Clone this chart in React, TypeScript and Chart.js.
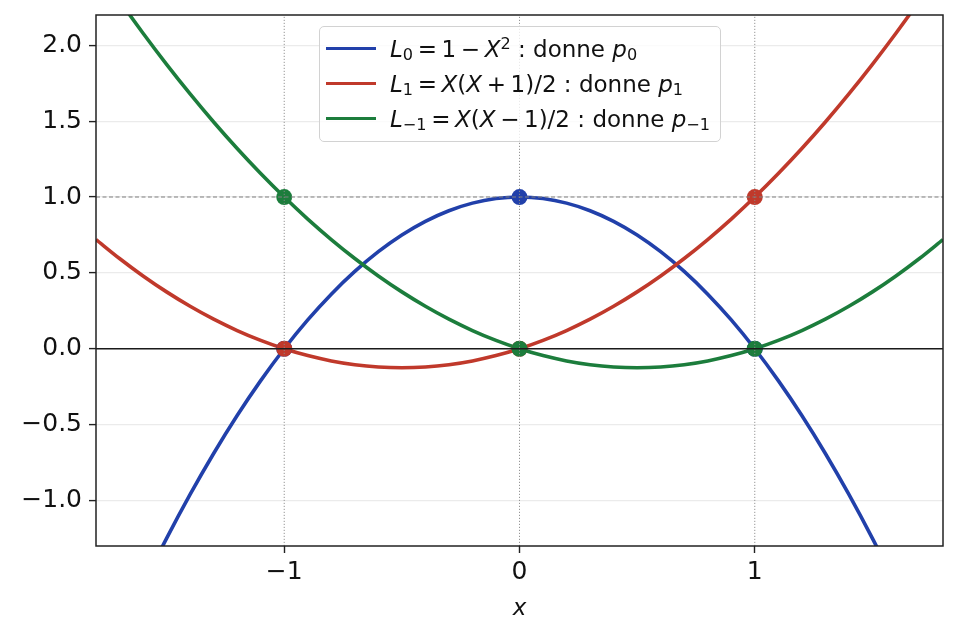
import { useEffect, useRef } from "react";
import { Chart, registerables } from "chart.js";

Chart.register(...registerables);

// ─── Data ─────────────────────────────────────────────────────────────────────
const xs = [
  -1.8, -1.7, -1.6, -1.5, -1.4, -1.3, -1.2, -1.1, -1.0, -0.9, -0.8, -0.7, -0.6,
  -0.5, -0.4, -0.3, -0.2, -0.1, 0, 0.1, 0.2, 0.3, 0.4, 0.5, 0.6, 0.7, 0.8, 0.9,
  1.0, 1.1, 1.2, 1.3, 1.4, 1.5, 1.6, 1.7, 1.8,
];
// L0 = 1 - X^2
const l0 = [
  -2.24, -1.89, -1.56, -1.25, -0.96, -0.69, -0.44, -0.21, 0, 0.19, 0.36, 0.51, 0.64,
  0.75, 0.84, 0.91, 0.96, 0.99, 1, 0.99, 0.96, 0.91, 0.84, 0.75, 0.64, 0.51, 0.36, 0.19,
  0, -0.21, -0.44, -0.69, -0.96, -1.25, -1.56, -1.89, -2.24,
];
// L1 = X(X+1)/2
const l1 = [
  0.72, 0.595, 0.48, 0.375, 0.28, 0.195, 0.12, 0.055, 0, -0.045, -0.08, -0.105, -0.12,
  -0.125, -0.12, -0.105, -0.08, -0.045, 0, 0.055, 0.12, 0.195, 0.28, 0.375, 0.48, 0.595,
  0.72, 0.855, 1, 1.155, 1.32, 1.495, 1.68, 1.875, 2.08, 2.295, 2.52,
];
// L-1 = X(X-1)/2
const lm1 = [
  2.52, 2.295, 2.08, 1.875, 1.68, 1.495, 1.32, 1.155, 1, 0.855, 0.72, 0.595, 0.48,
  0.375, 0.28, 0.195, 0.12, 0.055, 0, -0.045, -0.08, -0.105, -0.12, -0.125, -0.12,
  -0.105, -0.08, -0.045, 0, 0.055, 0.12, 0.195, 0.28, 0.375, 0.48, 0.595, 0.72,
];

// interpolation nodes and the values each polynomial takes there
const nodes = [-1, 0, 1];
const l0Nodes = [0, 1, 0];
const l1Nodes = [0, 0, 1];
const lm1Nodes = [1, 0, 0];

const xTicks = [-1, 0, 1];
const yTicks = [-1, -0.5, 0, 0.5, 1, 1.5, 2];
const vLines = [-1, 0, 1];

const BLUE = "#2140aa";
const RED = "#c0392b";
const GREEN = "#1c7d3c";
const FONT = "'DejaVu Sans', sans-serif";

type Seg = [string, string];
const legendRows: { color: string; parts: Seg[] }[] = [
  {
    color: BLUE,
    parts: [["L", "i"], ["0", "sub"], ["=", "op"], ["1", ""], ["−", "op"], ["X", "i"], ["2", "sup"], [" : donne ", ""], ["p", "i"], ["0", "sub"]],
  },
  {
    color: RED,
    parts: [["L", "i"], ["1", "sub"], ["=", "op"], ["X", "i"], ["(", ""], ["X", "i"], ["+", "op"], ["1)/2", ""], [" : donne ", ""], ["p", "i"], ["1", "sub"]],
  },
  {
    color: GREEN,
    parts: [["L", "i"], ["−1", "sub"], ["=", "op"], ["X", "i"], ["(", ""], ["X", "i"], ["−", "op"], ["1)/2", ""], [" : donne ", ""], ["p", "i"], ["−1", "sub"]],
  },
];

const pts = (x: number[], y: number[]) => x.map((v, i) => ({ x: v, y: y[i] }));
const minus = (s: string) => s.replace("-", "−");

// frame around the plotting area (all four spines)
const framePlugin = {
  id: "frame",
  afterDatasetsDraw(chart: any) {
    const { ctx, chartArea: a } = chart;
    ctx.save();
    ctx.strokeStyle = "#222";
    ctx.lineWidth = 1.5;
    ctx.strokeRect(a.left, a.top, a.right - a.left, a.bottom - a.top);
    ctx.restore();
  },
};

// ─── Component ────────────────────────────────────────────────────────────────
export default function App() {
  const canvasRef = useRef<HTMLCanvasElement | null>(null);
  const chartRef = useRef<any>(null);

  useEffect(() => {
    if (!canvasRef.current) return;
    if (chartRef.current) chartRef.current.destroy();

    const curve = (data: number[], color: string, order: number) => ({
      data: pts(xs, data),
      showLine: true,
      borderColor: color,
      borderWidth: 3.6,
      pointRadius: 0,
      tension: 0.3,
      clip: 0,
      order,
    });
    const markers = (data: number[], color: string, order: number) => ({
      data: pts(nodes, data),
      showLine: false,
      pointRadius: 8,
      pointBorderWidth: 0,
      backgroundColor: color,
      pointBackgroundColor: color,
      order,
    });
    const ref = (data: { x: number; y: number }[], color: string, width: number, dash: number[]) => ({
      data,
      showLine: true,
      borderColor: color,
      borderWidth: width,
      borderDash: dash,
      pointRadius: 0,
      tension: 0,
      clip: 0,
      order: 0,
    });

    chartRef.current = new Chart(canvasRef.current, {
      type: "scatter",
      data: {
        datasets: [
          ref([{ x: -1.8, y: 0 }, { x: 1.8, y: 0 }], "#1a1a1a", 1.7, []),
          ref([{ x: -1.8, y: 1 }, { x: 1.8, y: 1 }], "#808080", 1.1, [4, 2.5]),
          ...vLines.map((v) => ref([{ x: v, y: -1.3 }, { x: v, y: 2.2 }], "#8a8a8a", 0.9, [1.2, 1.8])),
          markers(lm1Nodes, GREEN, 1),
          markers(l1Nodes, RED, 2),
          markers(l0Nodes, BLUE, 3),
          curve(lm1, GREEN, 4),
          curve(l1, RED, 5),
          curve(l0, BLUE, 6),
        ] as any,
      },
      options: {
        animation: false,
        responsive: true,
        maintainAspectRatio: false,
        events: [],
        layout: { padding: { top: 15, right: 16, left: 0, bottom: 0 } },
        elements: { line: { capBezierPoints: false } },
        plugins: {
          legend: { display: false },
          tooltip: { enabled: false },
        },
        scales: {
          x: {
            type: "linear",
            min: -1.8,
            max: 1.8,
            afterBuildTicks: (s: any) => { s.ticks = xTicks.map((v) => ({ value: v })); },
            afterFit: (s: any) => { s.height = 92; s.paddingLeft = 0; s.paddingRight = 0; },
            grid: { drawOnChartArea: false, tickColor: "#222", tickWidth: 1.4, tickLength: 7 },
            border: { display: false },
            ticks: {
              color: "#111",
              font: { family: FONT, size: 25 },
              padding: 4,
              maxRotation: 0,
              autoSkip: false,
              callback: (v: any) => minus(String(v)),
            },
            title: {
              display: true,
              text: "x",
              color: "#111",
              font: { family: FONT, size: 23, style: "italic" },
              padding: { top: 0, bottom: 15 },
            },
          },
          y: {
            type: "linear",
            min: -1.3,
            max: 2.2,
            afterBuildTicks: (s: any) => { s.ticks = yTicks.map((v) => ({ value: v })); },
            afterFit: (s: any) => { s.width = 96; s.paddingTop = 0; s.paddingBottom = 0; },
            grid: { color: "#ebebeb", lineWidth: 1.2, tickColor: "#222", tickWidth: 1.4, tickLength: 7 },
            border: { display: false },
            ticks: {
              color: "#111",
              font: { family: FONT, size: 25 },
              padding: 7,
              autoSkip: false,
              callback: (v: any) => minus(Number(v).toFixed(1)),
            },
          },
        },
      },
      plugins: [framePlugin],
    } as any);

    return () => { if (chartRef.current) chartRef.current.destroy(); };
  }, []);

  const fs = 23;
  const rowBase = [57.7, 92.7, 127.7];
  const rowMid = [48.3, 83.3, 118.3];

  const renderSeg = ([t, k]: Seg, i: number) => {
    if (k === "i") return <span key={i} style={{ fontStyle: "italic" }}>{t}</span>;
    if (k === "sub") return <span key={i} style={{ fontSize: "0.7em", position: "relative", top: "0.2em" }}>{t}</span>;
    if (k === "sup") return <span key={i} style={{ fontSize: "0.7em", position: "relative", top: "-0.5em" }}>{t}</span>;
    if (k === "op") return <span key={i} style={{ margin: "0 0.2em" }}>{t}</span>;
    return <span key={i} style={{ whiteSpace: "pre" }}>{t}</span>;
  };

  return (
    <>
      <style>{`
        * { box-sizing: border-box; }
        body { margin: 0; background: #ffffff; font-family: ${FONT}; }
      `}</style>

      <div style={{ position: "relative", width: 959, height: 638, background: "#fff" }}>
        <canvas ref={canvasRef} />

        {/* Legend */}
        <div
          style={{
            position: "absolute", left: 319, top: 26, width: 402, height: 116,
            border: "1.3px solid #d2d2d2", borderRadius: 5, background: "rgba(255,255,255,0.8)",
          }}
        />
        {legendRows.map((r, i) => (
          <div key={i}>
            <div style={{ position: "absolute", left: 326, top: rowMid[i] - 1.7, width: 50, height: 3.4, background: r.color }} />
            <div
              style={{
                position: "absolute", left: 390, top: rowBase[i] - 0.846 * fs,
                fontFamily: FONT, fontSize: fs, lineHeight: `${fs}px`, color: "#111", whiteSpace: "nowrap",
              }}
            >
              {r.parts.map(renderSeg)}
            </div>
          </div>
        ))}
      </div>
    </>
  );
}
